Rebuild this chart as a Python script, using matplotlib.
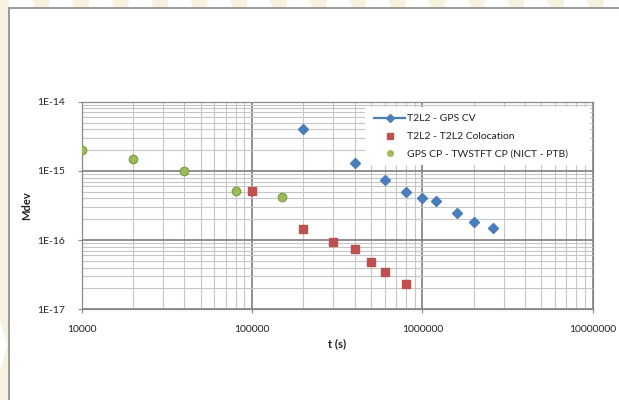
import matplotlib
matplotlib.use("Agg")
import matplotlib.pyplot as plt
from matplotlib.lines import Line2D
from matplotlib.patches import Rectangle, Polygon
from matplotlib.ticker import FixedLocator, FixedFormatter, LogLocator, NullFormatter

# ---------------- data ----------------
gps_cv_t = [2e5, 4e5, 6e5, 8e5, 1e6, 1.2e6, 1.6e6, 2e6, 2.6e6]
gps_cv_mdev = [4.0e-15, 1.3e-15, 7.4e-16, 4.9e-16, 4.1e-16, 3.7e-16, 2.5e-16, 1.8e-16, 1.48e-16]

coloc_t = [1e5, 2e5, 3e5, 4e5, 5e5, 6e5, 8e5]
coloc_mdev = [5.1e-16, 1.46e-16, 9.4e-17, 7.5e-17, 4.9e-17, 3.5e-17, 2.3e-17]

cp_t = [1e4, 2e4, 4e4, 8e4, 1.5e5]
cp_mdev = [2.0e-15, 1.5e-15, 1.0e-15, 5.2e-16, 4.2e-16]

series_labels = ["T2L2 - GPS CV", "T2L2 - T2L2 Colocation", "GPS CP - TWSTFT CP (NICT - PTB)"]

x_ticks = [1e4, 1e5, 1e6, 1e7]
x_tick_labels = ["10000", "100000", "1000000", "10000000"]
y_ticks = [1e-17, 1e-16, 1e-15, 1e-14]
y_tick_labels = ["1E-17", "1E-16", "1E-15", "1E-14"]

x_label = "t (s)"
y_label = "Mdev"

# ---------------- style ----------------
plt.rcParams['font.family'] = ['Lato', 'DejaVu Sans']
W, H = 619, 400
fig = plt.figure(figsize=(W / 100, H / 100), dpi=100)
fig.patch.set_facecolor("white")

# decorative background (pixel coordinates)
bg = fig.add_axes([0, 0, 1, 1], zorder=0)
bg.set_xlim(0, W)
bg.set_ylim(H, 0)
bg.axis("off")
beige = "#f7f1df"
k = 0
while True:
    x0 = 32 + 39.6 * k
    if x0 > W:
        break
    bg.add_patch(Polygon([[x0, 0], [x0 + 18, 0], [x0 + 16, 8], [x0 + 3, 8]],
                         closed=True, facecolor=beige, edgecolor="none"))
    k += 1
bg.add_patch(Polygon([[0, 0], [9, 0], [9, 400], [0, 400]], closed=True,
                     facecolor=beige, edgecolor="none"))
bg.add_patch(Polygon([[0, 320], [7, 345], [0, 372]], closed=True,
                     facecolor="white", edgecolor="none"))
# frame
bg.plot([8.5, 8.5], [8, 400], color="#9a9a9a", lw=1.4, solid_capstyle="butt")
bg.plot([8, 619], [8, 8], color="#9a9a9a", lw=1.4, solid_capstyle="butt")
bg.add_patch(Rectangle((9.2, 8.7), 610, 392, facecolor="white", edgecolor="none"))

# main axes
left, right, top, bottom = 82.0, 592.7, 101.7, 309.3
ax = fig.add_axes([left / W, 1 - bottom / H, (right - left) / W, (bottom - top) / H], zorder=2)
ax.set_facecolor("white")
ax.set_xscale("log")
ax.set_yscale("log")
ax.set_xlim(x_ticks[0], x_ticks[-1])
ax.set_ylim(y_ticks[0], y_ticks[-1])

ax.xaxis.set_major_locator(FixedLocator(x_ticks))
ax.xaxis.set_major_formatter(FixedFormatter(x_tick_labels))
ax.yaxis.set_major_locator(FixedLocator(y_ticks))
ax.yaxis.set_major_formatter(FixedFormatter(y_tick_labels))
ax.xaxis.set_minor_locator(LogLocator(base=10, subs=range(2, 10)))
ax.yaxis.set_minor_locator(LogLocator(base=10, subs=range(2, 10)))
ax.xaxis.set_minor_formatter(NullFormatter())
ax.yaxis.set_minor_formatter(NullFormatter())

ax.set_axisbelow(True)
ax.grid(which="major", color="#7e7e7e", lw=1.2)
ax.grid(which="minor", color="#c6c6c6", lw=0.8)
for s in ax.spines.values():
    s.set_color("#8a8a8a")
    s.set_linewidth(0.9)

ax.tick_params(which="major", length=3, width=0.8, color="#8a8a8a",
               labelsize=7.5, labelcolor="#222222")
ax.tick_params(axis="x", which="major", pad=8)
ax.tick_params(axis="y", which="major", pad=9)
ax.tick_params(which="minor", length=0)

ax.set_xlabel(x_label, fontsize=8, fontweight="bold", color="#222222", labelpad=3)
ax.set_ylabel(y_label, fontsize=8, fontweight="bold", color="#222222", labelpad=4)

blue, red, green = "#4a7ebb", "#c0504d", "#9bbb59"

ax.plot(gps_cv_t, gps_cv_mdev, linestyle="none", marker="D", markersize=5,
        color=blue, markeredgecolor=blue, zorder=3)
ax.plot(coloc_t, coloc_mdev, linestyle="none", marker="s", markersize=5.6,
        color=red, markeredgecolor=red, zorder=3)
ax.plot(cp_t, cp_mdev, linestyle="none", marker="o", markersize=6.2,
        color=green, markeredgecolor="#7f9a45", markeredgewidth=0.8, zorder=3)

# legend background box (axes fraction)
lx0 = (365 - left) / (right - left)
lx1 = (590 - left) / (right - left)
ly0 = 1 - (165 - top) / (bottom - top)
ly1 = 1 - (107 - top) / (bottom - top)
ax.add_patch(Rectangle((lx0, ly0), lx1 - lx0, ly1 - ly0, transform=ax.transAxes,
                       facecolor="white", edgecolor="none", zorder=1.5))

handles = [
    Line2D([], [], color=blue, lw=1.6, marker="D", markersize=4.2),
    Line2D([], [], color=red, lw=0, marker="s", markersize=5),
    Line2D([], [], color=green, lw=0, marker="o", markersize=4),
]
leg = ax.legend(handles, series_labels, loc="upper left",
                bbox_to_anchor=((372 - left) / (right - left), 1 - (112 - top) / (bottom - top)),
                frameon=False, fontsize=7.5, handlelength=3.0, handletextpad=0.2,
                labelspacing=0.82, borderaxespad=0, borderpad=0.2)
for t in leg.get_texts():
    t.set_color("#222222")

fig.savefig("out.png", dpi=100)
